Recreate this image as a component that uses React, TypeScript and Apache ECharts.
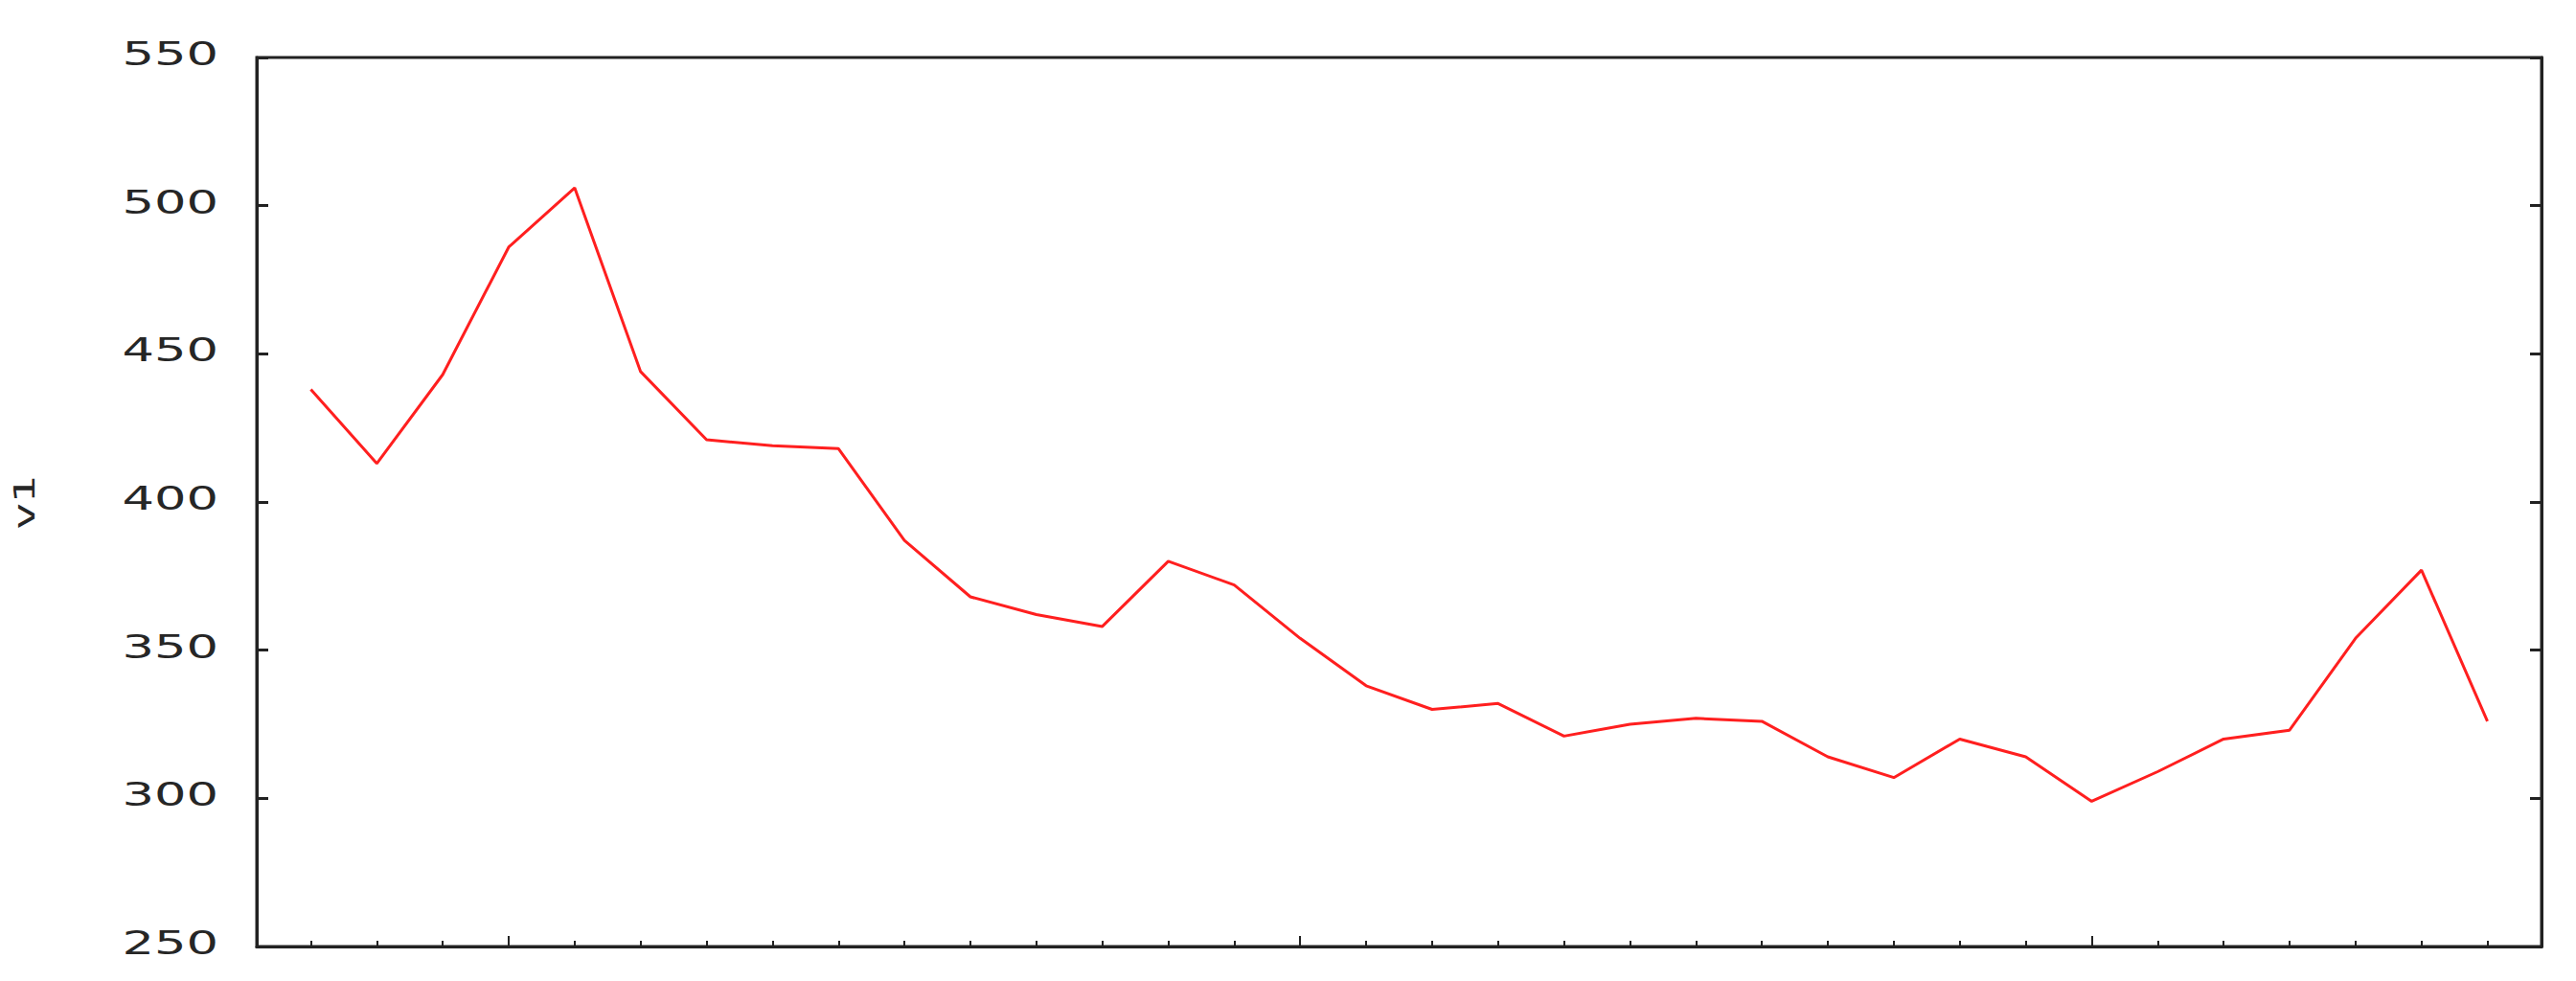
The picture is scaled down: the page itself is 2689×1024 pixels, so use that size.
import React, { useEffect, useRef } from "react";
import * as echarts from "echarts";

const indices: number[] = Array.from({ length: 34 }, (_, i) => i);
const values: number[] = [
  438, 413, 443, 486, 506, 444, 421, 419, 418, 387, 368, 362, 358, 380, 372, 354, 338,
  330, 332, 321, 325, 327, 326, 314, 307, 320, 314, 299, 309, 320, 323, 354, 377, 326,
];
const majorTicks: number[] = [3, 15, 27];
const yTicks: number[] = [250, 300, 350, 400, 450, 500, 550];
const yName = "v1";

export default function App() {
  const ref = useRef<HTMLDivElement>(null);
  useEffect(() => {
    if (!ref.current) return;
    const chart = echarts.init(ref.current, undefined, { renderer: "svg" });
    const axisColor = "#222";
    chart.setOption({
      animation: false,
      backgroundColor: "#fff",
      grid: {
        left: 268,
        top: 60,
        width: 2385,
        height: 928,
        show: true,
        borderColor: axisColor,
        borderWidth: 3,
        backgroundColor: "transparent",
      },
      xAxis: [
        {
          type: "value",
          position: "bottom",
          min: -0.82,
          max: 33.82,
          axisLine: { show: true, onZero: false, lineStyle: { color: axisColor, width: 3 } },
          axisTick: {
            show: true,
            inside: true,
            length: 6,
            customValues: indices,
            lineStyle: { color: axisColor, width: 2 },
          },
          axisLabel: { show: false },
          splitLine: { show: false },
        },
        {
          type: "value",
          position: "bottom",
          min: -0.82,
          max: 33.82,
          axisLine: { show: false, onZero: false },
          axisTick: {
            show: true,
            inside: true,
            length: 11,
            customValues: majorTicks,
            lineStyle: { color: axisColor, width: 2 },
          },
          axisLabel: { show: false },
          splitLine: { show: false },
        },
      ],
      yAxis: [
        {
          type: "value",
          position: "left",
          min: yTicks[0],
          max: yTicks[yTicks.length - 1],
          interval: 50,
          axisLine: { show: true, onZero: false, lineStyle: { color: axisColor, width: 3 } },
          axisTick: { show: true, inside: true, length: 12, lineStyle: { color: axisColor, width: 3 } },
          axisLabel: { show: false },
          splitLine: { show: false },
        },
        {
          type: "value",
          position: "right",
          min: yTicks[0],
          max: yTicks[yTicks.length - 1],
          interval: 50,
          axisLine: { show: true, onZero: false, lineStyle: { color: axisColor, width: 3 } },
          axisTick: { show: true, inside: true, length: 12, lineStyle: { color: axisColor, width: 3 } },
          axisLabel: { show: false },
          splitLine: { show: false },
        },
      ],
      series: [
        {
          type: "line",
          xAxisIndex: 0,
          yAxisIndex: 0,
          data: indices.map((i) => [i, values[i]]),
          symbol: "none",
          lineStyle: { color: "#ff1f1f", width: 3 },
        },
      ],
    });

    // Tick labels (horizontally stretched like the reference), positioned by the y scale
    const labelEls = yTicks.map((v) => {
      const py = chart.convertToPixel({ yAxisIndex: 0 }, v) as number;
      return {
        type: "text",
        x: 228,
        y: py - 4,
        scaleX: 1.55,
        style: {
          text: String(v),
          fill: "#262626",
          fontFamily: "DejaVu Sans",
          fontSize: 34,
          align: "right",
          verticalAlign: "middle",
        },
      };
    });
    const midY = chart.convertToPixel(
      { yAxisIndex: 0 },
      (yTicks[0] + yTicks[yTicks.length - 1]) / 2
    ) as number;
    chart.setOption({
      graphic: [
        ...labelEls,
        {
          type: "text",
          x: 25,
          y: midY,
          rotation: Math.PI / 2,
          scaleX: 1.5,
          style: {
            text: yName,
            fill: "#262626",
            fontFamily: "DejaVu Sans",
            fontSize: 31,
            align: "center",
            verticalAlign: "middle",
          },
        },
      ],
    });
    return () => chart.dispose();
  }, []);
  return (
    <div
      ref={ref}
      style={{ position: "fixed", left: 0, top: 0, width: 2689, height: 1024 }}
    />
  );
}
